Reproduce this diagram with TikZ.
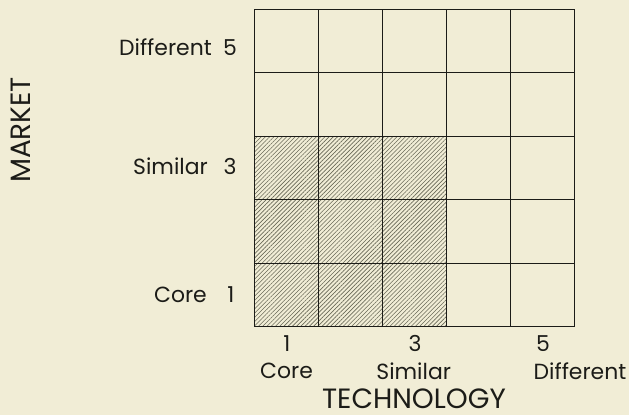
\documentclass[tikz,border=0pt]{standalone}
\usepackage{fontspec}
\setmainfont{Poppins}
\usepackage{tikz}
\usetikzlibrary{patterns.meta, positioning}
\definecolor{paper}{RGB}{241,237,214}
\definecolor{ink}{RGB}{28,28,24}
\definecolor{hatch}{RGB}{105,105,88}

\tikzset{
  gridline/.style={ink, line width=1.3bp},
  lbl/.style={font=\fontsize{22}{24}\selectfont, text=ink, inner sep=0pt},
  axis title/.style={font=\fontsize{28}{30}\selectfont, text=ink, inner sep=0pt}
}

\begin{document}
\begin{tikzpicture}[x=1bp, y=-1bp]
\fill[paper] (0,0) rectangle (629,415);
\useasboundingbox (0,0) rectangle (629,415);

% hatched block: core to similar in both directions
\fill[pattern={Lines[angle=45, distance=3bp, line width=0.6bp]}, pattern color=hatch] (254.7,136.3) rectangle (446.7,326.8);

\foreach \i in {0,...,5} {
  \draw[gridline] (254.7+64*\i, 9.3) -- (254.7+64*\i, 326.8);
  \draw[gridline] (254.7, 9.3+63.5*\i) -- (574.7, 9.3+63.5*\i);
}

% market axis
\node[lbl, anchor=east] (mDiff) at (212,47) {Different};
\node[lbl] (m5) at (230,48) {5};
\node[lbl, anchor=east] (mSim) at (208,166) {Similar};
\node[lbl] (m3) at (230,166) {3};
\node[lbl, anchor=east] (mCore) at (207,294.5) {Core};
\node[lbl] (m1) at (231,294.5) {1};
\node[axis title, rotate=90] (market) at (21,130) {MARKET};

% technology axis
\node[lbl] (t1) at (287,343.5) {1};
\node[lbl] (t3) at (415,343.5) {3};
\node[lbl] (t5) at (543,343.5) {5};
\node[lbl] (tCore) at (286.5,371) {Core};
\node[lbl] (tSim) at (413.7,371) {Similar};
\node[lbl] (tDiff) at (580,371) {Different};
\node[axis title] (tech) at (414,399) {TECHNOLOGY};
\end{tikzpicture}
\end{document}
